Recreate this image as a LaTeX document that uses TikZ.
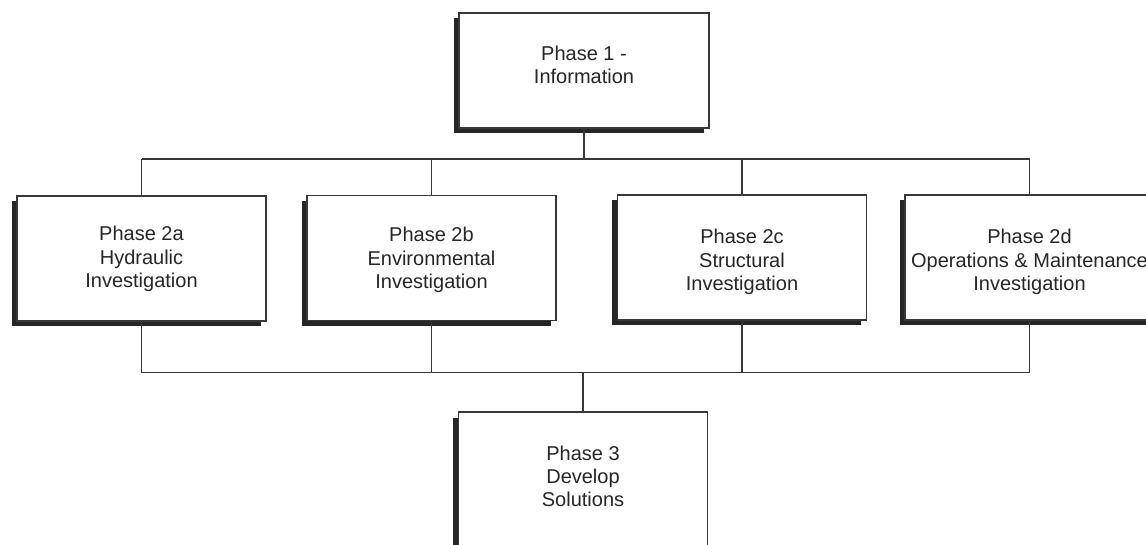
\documentclass[tikz,border=0pt]{standalone}
\usepackage{fontspec}
\setmainfont{Liberation Sans}
\begin{document}
\begin{tikzpicture}[x=1pt,y=-1pt,
  phase/.style={draw=black!78, line width=1.1pt, fill=white,
    minimum width=249pt, minimum height=125pt, inner sep=0pt, outer sep=0pt,
    preaction={fill=black!85, draw=none,
      transform canvas={shift={(-5.5pt,-5.5pt)}}}},
  caption/.style={align=center, text=black!85, inner sep=0pt,
    font=\fontsize{20}{23.3}\selectfont},
  link/.style={draw=black!78, line width=1.2pt}]
  \useasboundingbox (0,0) rectangle (1146,545);
  \clip (0,0) rectangle (1146,545);

  % bus levels
  \coordinate (upper bus) at (0,159);
  \coordinate (lower bus) at (0,372.5);

  % boxes
  \node[phase, minimum width=250pt, minimum height=115pt] (p1) at (584,70.5) {};
  \node[phase] (p2a) at (141.5,258.5) {};
  \node[phase] (p2b) at (431.5,258) {};
  \node[phase] (p2c) at (742,257.5) {};
  \node[phase] (p2d) at (1029.5,257.5) {};
  \node[phase, minimum height=150pt] (p3) at (583,487) {};

  % captions
  \node[caption] (t1)  at (584,65)      {Phase 1 -\\Information};
  \node[caption] (t2a) at (141.5,259)   {Phase 2a\\Hydraulic\\Investigation};
  \node[caption] (t2b) at (431.5,260)   {Phase 2b\\Environmental\\Investigation};
  \node[caption] (t2c) at (742,262)     {Phase 2c\\Structural\\Investigation};
  \node[caption] (t2d) at (1029.5,262)  {Phase 2d\\Operations \& Maintenance\\Investigation};
  \node[caption] (t3)  at (583,476.5)   {Phase 3\\Develop\\Solutions};

  % connectors
  \draw[link] (p1.south) -- (p1.south |- upper bus);
  \draw[link] (p2a.north |- upper bus) -- (p2d.north |- upper bus);
  \draw[link] (p2a.south |- lower bus) -- (p2d.south |- lower bus);
  \foreach \n in {p2a,p2b,p2c,p2d} {
    \draw[link] (\n.north |- upper bus) -- (\n.north);
    \draw[link] (\n.south) -- (\n.south |- lower bus);
  }
  \draw[link] (p3.north |- lower bus) -- (p3.north);
\end{tikzpicture}
\end{document}
